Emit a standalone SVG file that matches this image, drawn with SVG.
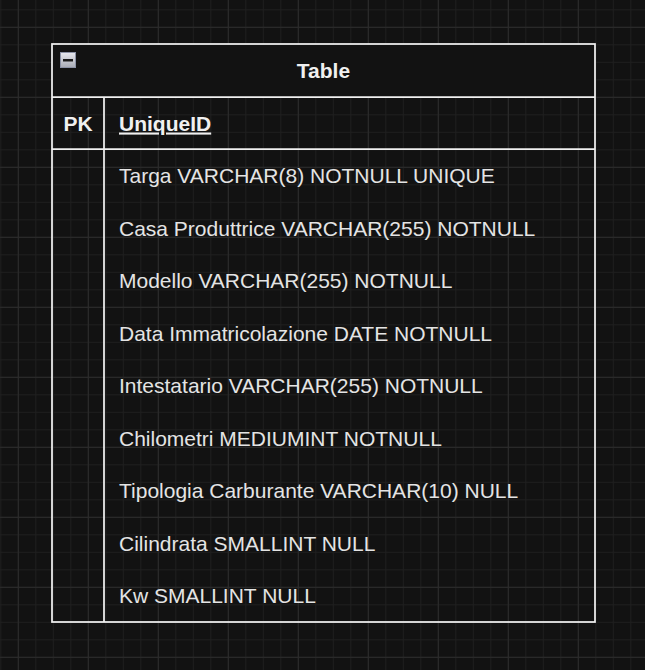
<svg xmlns="http://www.w3.org/2000/svg" width="645" height="670" viewBox="0 0 645 670">
  <defs>
    <pattern id="minor" patternUnits="userSpaceOnUse" x="0.3" y="9.3" width="17.5" height="17.5">
      <rect x="0" y="0" width="17.5" height="1" fill="#1f1f1f"/>
      <rect x="0" y="0" width="1" height="17.5" fill="#1f1f1f"/>
    </pattern>
    <pattern id="major" patternUnits="userSpaceOnUse" x="17.8" y="26.8" width="70" height="70">
      <rect x="0" y="0" width="70" height="1" fill="#2c2c2c"/>
      <rect x="0" y="0" width="1" height="70" fill="#2c2c2c"/>
    </pattern>
    <linearGradient id="btn" x1="0" y1="0" x2="0" y2="1">
      <stop offset="0" stop-color="#e8e8ee"/>
      <stop offset="1" stop-color="#a8abb5"/>
    </linearGradient>
  </defs>
  <style>
    .ln { stroke: #f0f0f0; stroke-width: 1.75; fill: none; }
    .t { font-family: "Liberation Sans", Arial, Helvetica, sans-serif; font-size: 21px; fill: #f0f0f0; }
    .b { font-weight: bold; }
    .row { fill: #e4e4e4; }
  </style>
  <rect x="0" y="0" width="645" height="670" fill="#121212"/>
  <rect x="0" y="0" width="645" height="670" fill="url(#minor)"/>
  <rect x="0" y="0" width="645" height="670" fill="url(#major)"/>

  <g id="table">
    <rect x="52" y="44" width="543" height="53" fill="#121212"/>
    <rect class="ln" x="52" y="44" width="543" height="578"/>
    <line class="ln" x1="52" y1="97" x2="595" y2="97"/>
    <line class="ln" x1="52" y1="149" x2="595" y2="149"/>
    <line class="ln" x1="104" y1="97" x2="104" y2="622"/>
    <g id="collapse">
      <rect x="60.5" y="52.5" width="15" height="15" fill="url(#btn)" stroke="#8c92a6" stroke-width="1"/>
      <rect x="63" y="59" width="10" height="2.5" fill="#1a1a1a"/>
    </g>
    <text class="t b" x="323.5" y="78" text-anchor="middle">Table</text>
    <text class="t b" x="78" y="130.5" text-anchor="middle">PK</text>
    <text class="t b" x="119" y="130.5" text-decoration="underline">UniqueID</text>
    <text class="t row" x="119" y="183">Targa VARCHAR(8) NOTNULL UNIQUE</text>
    <text class="t row" x="119" y="235.5">Casa Produttrice VARCHAR(255) NOTNULL</text>
    <text class="t row" x="119" y="288">Modello VARCHAR(255) NOTNULL</text>
    <text class="t row" x="119" y="340.5">Data Immatricolazione DATE NOTNULL</text>
    <text class="t row" x="119" y="393">Intestatario VARCHAR(255) NOTNULL</text>
    <text class="t row" x="119" y="445.5">Chilometri MEDIUMINT NOTNULL</text>
    <text class="t row" x="119" y="498">Tipologia Carburante VARCHAR(10) NULL</text>
    <text class="t row" x="119" y="550.5">Cilindrata SMALLINT NULL</text>
    <text class="t row" x="119" y="603">Kw SMALLINT NULL</text>
  </g>
  <g id="connectors"/>
</svg>
